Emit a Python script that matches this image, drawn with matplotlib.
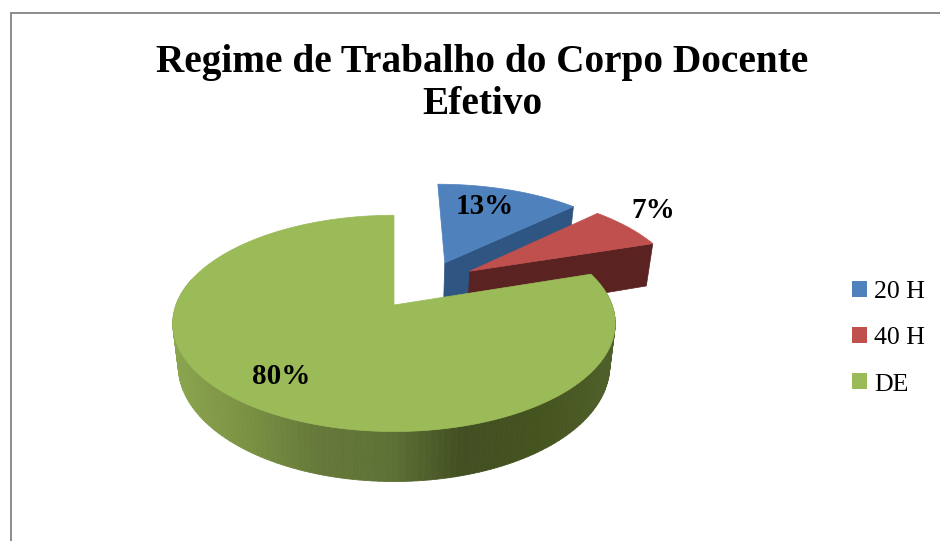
import numpy as np
import matplotlib
matplotlib.use("Agg")
import matplotlib.pyplot as plt
from matplotlib.patches import Patch
from matplotlib.collections import PolyCollection
from matplotlib.colors import LinearSegmentedColormap

categories = ["20 H", "40 H", "DE"]
values = [13, 7, 80]
colors = ["#4f81bd", "#c0504d", "#9bbb59"]
wall_colors = ["#2f5583", "#5a2220", "#66793a"]
title = "Regime de Trabalho do Corpo Docente\nEfetivo"

# pie geometry, in pixels of the 940x541 picture
CX, CY = 394, 305
A, B = 218, 105
K = 0.17        # perspective
DEPTH = 41.5
explode = [(0.25, 0.43), (0.367, 0.34), (0, 0)]
label_pos = [(485, 207), (653, 211), (281, 376)]


def project(X, Y):
    s = 1 / (1 + K * Y)
    return CX + A * X * s, CY - B * Y * s, s


def lower(x, y, s, depth=DEPTH):
    return CX + (x - CX) * 0.975, y + depth * s


fig = plt.figure(figsize=(9.4, 5.41), dpi=100)
ax = fig.add_axes([0, 0, 1, 1])
ax.set_xlim(0, 940)
ax.set_ylim(541, 0)
ax.axis("off")

# chart frame, cut by the picture edge on the right and bottom
ax.plot([10.5, 10.5, 940], [541, 12.5, 12.5], color="#8c8c8c", lw=1.4, solid_joinstyle="miter")

shade = LinearSegmentedColormap.from_list(
    "shade", ["#8ba54f", "#7b9243", "#66793a", "#5f7236", "#424f22", "#45531f", "#4f5f29"])

edges = np.cumsum([0] + values) / sum(values) * 2 * np.pi
for i in range(len(values)):
    t = np.linspace(edges[i], edges[i + 1], 200)
    ex, ey = explode[i]
    x, y, s = project(np.sin(t) + ex, np.cos(t) + ey)
    ax0, ay0, as0 = project(ex, ey)

    if i < 2:
        # cut face on the clockwise side of the slice
        xb0, yb0 = lower(ax0, ay0, as0, 47)
        xb1, yb1 = lower(x[-1], y[-1], s[-1], 47)
        ax.fill([ax0, x[-1], xb1, xb0], [ay0, y[-1], yb1, yb0],
                color=wall_colors[i], lw=0.5, zorder=i * 2 + 1)
    else:
        # rim of the big slice with its left to right shading
        xb, yb = lower(x, y, s)
        quads = []
        tones = []
        for j in range(len(t) - 1):
            if np.cos(t[j]) < 0.25:
                quads.append([(x[j], y[j]), (x[j + 1], y[j + 1]), (xb[j + 1], yb[j + 1]), (xb[j], yb[j])])
                tones.append((x[j] - 170) / 444)
        pc = PolyCollection(quads, array=np.array(tones), cmap=shade, clim=(0, 1),
                            edgecolors="face", linewidths=0.6, zorder=i * 2 + 1)
        ax.add_collection(pc)

    ax.fill(np.r_[ax0, x], np.r_[ay0, y], color=colors[i], lw=0.5, zorder=i * 2 + 2)
    ax.text(*label_pos[i], f"{values[i]}%", ha="center", va="center", fontsize=21,
            fontweight="bold", family="Liberation Serif", color="black", zorder=10)

ax.text(482, 83.5, title, ha="center", va="center", fontsize=28.3, fontweight="bold",
        family="Liberation Serif", color="black", linespacing=1.2)

handles = [Patch(facecolor=c, edgecolor="none") for c in colors]
ax.legend(handles, categories, loc="upper left", bbox_to_anchor=(852 / 940, 1 - 280.5 / 541),
          frameon=False, handlelength=0.58, handleheight=0.58,
          handletextpad=0.28, labelspacing=0.94, borderpad=0, borderaxespad=0,
          prop={"family": "Liberation Serif", "size": 18.6})

fig.savefig("out.png", dpi=100)
